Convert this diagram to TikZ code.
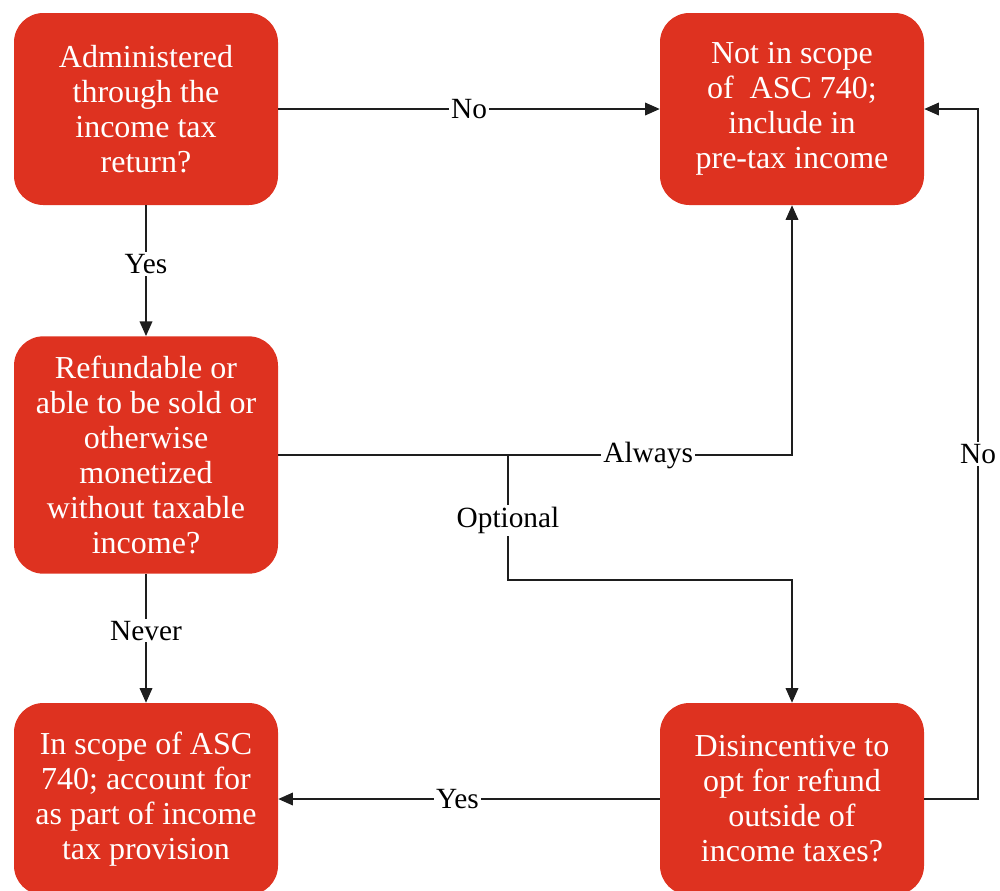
\documentclass[tikz,border=0pt]{standalone}
\usepackage{fontspec}
\setmainfont{Liberation Serif}
\usetikzlibrary{arrows.meta}
\definecolor{boxred}{RGB}{222,50,32}
\definecolor{linegray}{RGB}{30,30,30}
\begin{document}
\begin{tikzpicture}[x=0.75pt,y=-0.75pt,
  box/.style={fill=boxred, rounded corners=22pt, text=white, align=center,
    minimum width=198pt, inner sep=0pt, font=\fontsize{24}{26.2}\selectfont},
  flow/.style={draw=linegray, line width=1.1pt, -{Triangle[length=11pt,width=9.5pt]}},
  lbl/.style={fill=white, inner sep=1.5pt, text=black, font=\fontsize{22}{24}\selectfont}]
\useasboundingbox (0,0) rectangle (1000,890);

% decision and outcome boxes
\node[box, minimum height=144pt] (admin) at (146,109)
  {Administered\\through the\\income tax\\return?};
\node[box, minimum height=144pt] (notin) at (792,109)
  {Not in scope\\of\ \ ASC 740;\\include in\\pre-tax income};
\node[box, minimum height=178pt] (refund) at (146,455)
  {Refundable or\\able to be sold or\\otherwise\\monetized\\without taxable\\income?};
\node[box, minimum height=144pt] (inscope) at (146,799)
  {In scope of ASC\\740; account for\\as part of income\\tax provision};
\node[box, minimum height=144pt] (disinc) at (792,799)
  {Disincentive to\\opt for refund\\outside of\\income taxes?};

% helper points for routed connectors
\coordinate (split) at (508,456);
\coordinate (bend) at (508,580);
\coordinate (loopa) at (978,799);
\coordinate (loopb) at (978,109);

% connectors
\draw[flow] (admin.east) -- node[lbl] {No} (notin.west);
\draw[flow] (admin.south) -- node[lbl, pos=0.45] {Yes} (refund.north);
\draw[flow] (refund.east) -- node[lbl, pos=0.72] {Always} (notin.south |- refund.east) -- (notin.south);
\draw[flow] (split) -- node[lbl, pos=0.52] {Optional} (bend) -| (disinc.north);
\draw[flow] (refund.south) -- node[lbl, pos=0.44] {Never} (inscope.north);
\draw[flow] (disinc.west) -- node[lbl, pos=0.53] {Yes} (inscope.east);
\draw[flow] (disinc.east) -- (loopa) -- node[lbl] {No} (loopb) -- (notin.east);
\end{tikzpicture}
\end{document}
